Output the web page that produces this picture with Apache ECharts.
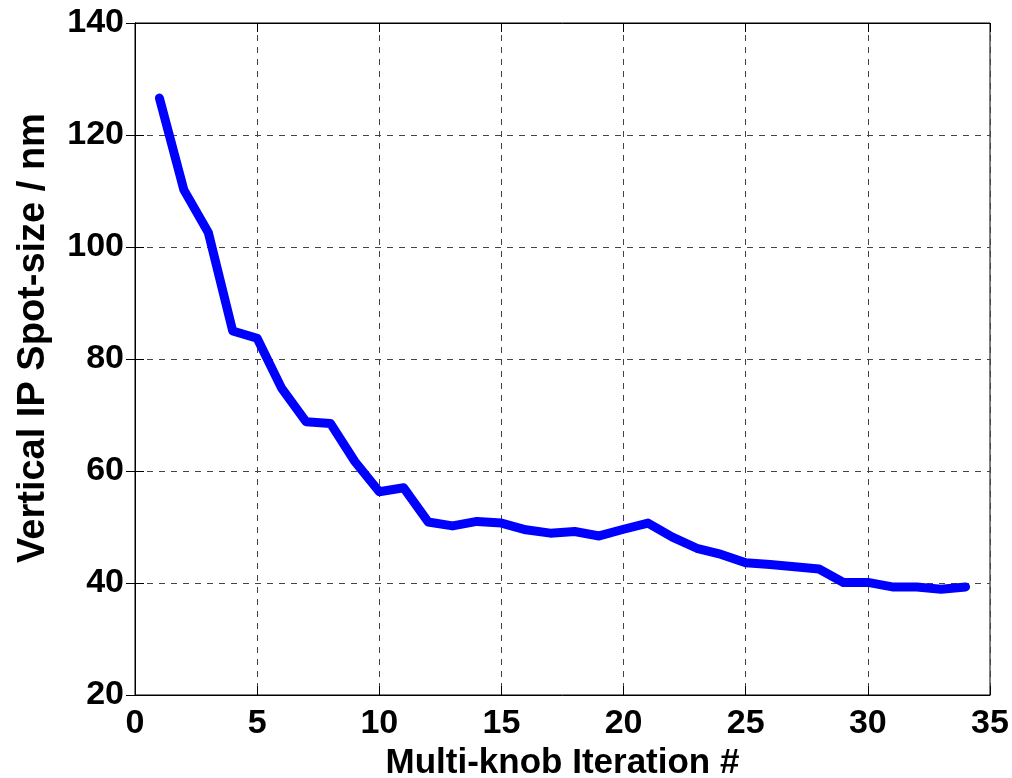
<!DOCTYPE html>
<html>
<head>
<meta charset="utf-8">
<script src="https://cdn.jsdelivr.net/npm/echarts@6/dist/echarts.min.js"></script>
<style>
  html, body { margin: 0; padding: 0; background: #fff; }
  #char1 { width: 1012px; height: 778px; }
</style>
</head>
<body>
<div id="char1"></div>
<script>
// iteration number and measured vertical spot size (nm)
var iterations = [1, 2, 3, 4, 5, 6, 7, 8, 9, 10, 11, 12, 13, 14, 15, 16, 17,
    18, 19, 20, 21, 22, 23, 24, 25, 26, 27, 28, 29, 30, 31, 32, 33, 34];
var spotSize = [126.6, 110.2, 102.6, 85.0, 83.7, 74.8, 68.8, 68.5, 61.7, 56.3, 57.0,
    50.9, 50.2, 51.0, 50.7, 49.5, 48.9, 49.2, 48.4, 49.6, 50.7, 48.2, 46.2, 45.1,
    43.6, 43.3, 42.9, 42.5, 40.1, 40.1, 39.3, 39.3, 38.9, 39.3];
var xTicks = [0, 5, 10, 15, 20, 25, 30, 35];
var yTicks = [20, 40, 60, 80, 100, 120, 140];

var xTitle = 'Multi-knob Iteration #';
var yTitle = 'Vertical IP Spot-size / nm';

function char1() {
    var myChart = echarts.init(document.getElementById('char1'));

    var pts = [];
    for (var i = 0; i < iterations.length; i++) {
        pts.push([iterations[i], spotSize[i]]);
    }

    var gridDash = {
        show: true,
        lineStyle: { color: '#444', type: [6, 6], width: 1 }
    };
    var tickIn = { show: true, inside: true, length: 9, lineStyle: { color: '#000' } };

    var option = {
        animation: false,
        backgroundColor: '#fff',
        grid: {
            left: 135,
            top: 23,
            right: 22,
            bottom: 83,
            outerBoundsMode: 'none',
            containLabel: false,
            show: true,
            borderColor: '#000',
            borderWidth: 1
        },
        xAxis: [{
            type: 'value',
            min: xTicks[0],
            max: xTicks[xTicks.length - 1],
            interval: 5,
            name: xTitle,
            nameLocation: 'middle',
            nameGap: 47,
            nameTextStyle: {
                color: '#000',
                fontFamily: 'Liberation Sans, Arial',
                fontWeight: 'bold',
                fontSize: 35
            },
            axisLine: { show: true, lineStyle: { color: '#000' } },
            axisTick: tickIn,
            splitLine: gridDash,
            axisLabel: {
                color: '#000',
                fontFamily: 'Liberation Sans, Arial',
                fontWeight: 'bold',
                fontSize: 34,
                margin: 12
            }
        }, {
            type: 'value',
            position: 'top',
            min: xTicks[0],
            max: xTicks[xTicks.length - 1],
            interval: 5,
            axisLine: { show: true, lineStyle: { color: '#000' } },
            axisTick: tickIn,
            splitLine: { show: false },
            axisLabel: { show: false }
        }],
        yAxis: [{
            type: 'value',
            min: yTicks[0],
            max: yTicks[yTicks.length - 1],
            interval: 20,
            name: yTitle,
            nameLocation: 'middle',
            nameGap: 82,
            nameTextStyle: {
                color: '#000',
                fontFamily: 'Liberation Sans, Arial',
                fontWeight: 'bold',
                fontSize: 38,
                padding: [0, 0, 0, 42]
            },
            axisLine: { show: true, lineStyle: { color: '#000' } },
            axisTick: tickIn,
            splitLine: gridDash,
            axisLabel: {
                color: '#000',
                fontFamily: 'Liberation Sans, Arial',
                fontWeight: 'bold',
                fontSize: 34,
                margin: 11
            }
        }, {
            type: 'value',
            position: 'right',
            min: yTicks[0],
            max: yTicks[yTicks.length - 1],
            interval: 20,
            axisLine: { show: true, lineStyle: { color: '#000' } },
            axisTick: tickIn,
            splitLine: { show: false },
            axisLabel: { show: false }
        }],
        series: [{
            name: 'Spot size',
            type: 'line',
            data: pts,
            showSymbol: false,
            symbol: 'none',
            lineStyle: {
                color: '#0000ff',
                width: 9,
                cap: 'round',
                join: 'round'
            }
        }]
    };

    myChart.setOption(option);
    window.addEventListener('resize', function() { myChart.resize(); });
}

char1();
</script>
</body>
</html>
